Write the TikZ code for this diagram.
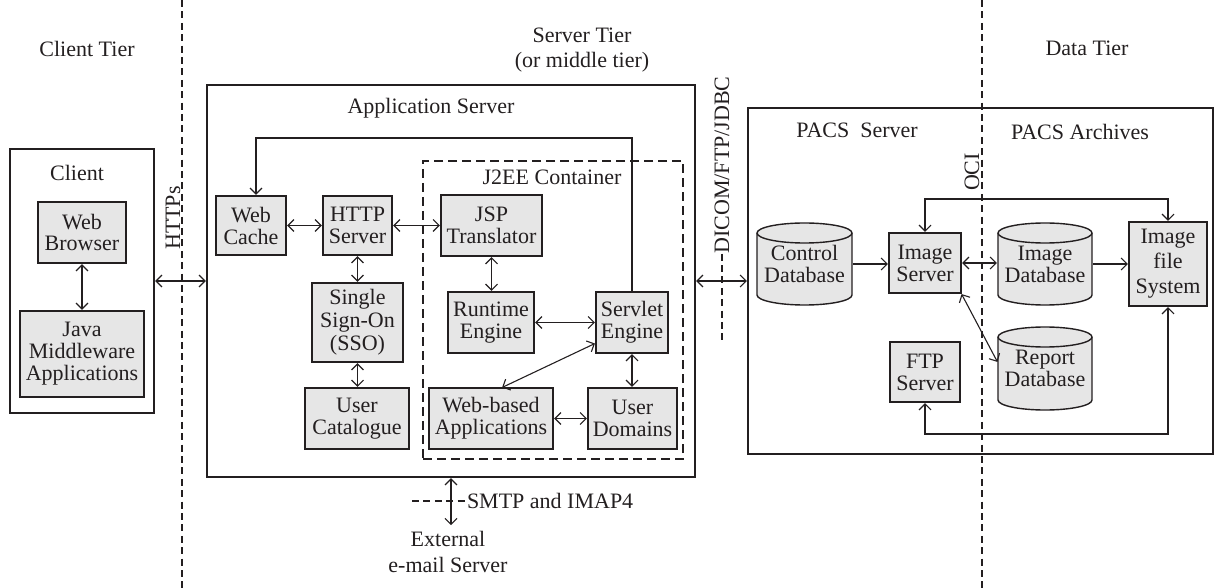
\documentclass[tikz,border=0pt]{standalone}
\usepackage{fontspec}
\setmainfont{Liberation Serif}
\usetikzlibrary{arrows.meta,calc}
\pgfdeclarelayer{background}
\pgfsetlayers{background,main}
\definecolor{boxgray}{RGB}{230,230,230}
\definecolor{linec}{RGB}{35,31,32}
\newcommand{\drawcyl}[2]{%
  \draw[gbox] ([yshift=-5pt]#1.north west) -- ([yshift=5pt]#1.south west)
     arc[start angle=180,end angle=360,x radius=#2,y radius=5pt]
     -- ([yshift=-5pt]#1.north east)
     arc[start angle=0,end angle=180,x radius=#2,y radius=5pt] -- cycle;
  \draw[gbox,fill=none] ([yshift=-5pt]#1.north west)
     arc[start angle=180,end angle=360,x radius=#2,y radius=5pt];
}
\begin{document}
\begin{tikzpicture}[x=0.5pt,y=-0.5pt,
  every node/.style={font=\fontsize{11}{11}\selectfont, inner sep=0pt, outer sep=0pt, align=center, text=linec},
  gbox/.style={draw=linec, line width=0.7pt, fill=boxgray},
  frame/.style={draw=linec, line width=0.7pt},
  cylbox/.style={draw=none},
  conn/.style={draw=linec, line width=0.55pt, shorten <=0.6pt, shorten >=0.6pt},
  dbl/.style={conn, {Straight Barb[length=3pt,width=6pt]}-{Straight Barb[length=3pt,width=6pt]}},
  sgl/.style={conn, -{Straight Barb[length=3pt,width=6pt]}},
  tierline/.style={draw=linec, line width=0.65pt, dash pattern=on 3.5pt off 2.2pt},
  cdash/.style={draw=linec, line width=0.7pt, dash pattern=on 4.5pt off 2.5pt}
]
\useasboundingbox (0,0) rectangle (1215,588);

% tier separators
\draw[tierline] (182,0) -- (182,588);
\draw[tierline] (982,0) -- (982,588);

% tier titles
\node (ct) at (87,49) {Client Tier};
\node[font=\fontsize{11}{12.5}\selectfont] (st) at (582,50) {Server Tier\\(or middle tier)};
\node (dt) at (1087,48) {Data Tier};

% client
\node[frame, minimum width=72pt, minimum height=132pt] (client) at (82,281) {};
\node (clientlbl) at (77,173) {Client};
\node[gbox, minimum width=44pt, minimum height=30.5pt, font=\fontsize{11}{10.5}\selectfont] (wb) at (82,232.5) {Web\\Browser};
\node[gbox, minimum width=62pt, minimum height=43pt] (java) at (82,354) {Java\\Middleware\\Applications};

% application server
\node[frame, minimum width=244pt, minimum height=196pt] (app) at (451,281) {};
\node (applbl) at (431,108) {Application Server};
\node[cdash, minimum width=130pt, minimum height=149pt] (j2ee) at (553,310) {};
\node (j2eelbl) at (552,177) {J2EE Container};
\node[gbox, minimum width=35pt, minimum height=29.5pt] (wc) at (251,225.5) {Web\\Cache};
\node[gbox, minimum width=34.5pt, minimum height=29.5pt] (http) at (357.5,225.5) {HTTP\\Server};
\node[gbox, minimum width=45.5pt, minimum height=39.5pt, font=\fontsize{11}{11.5}\selectfont] (sso) at (357.5,322.5) {Single\\Sign-On\\(SSO)};
\node[gbox, minimum width=52pt, minimum height=30.5pt] (uc) at (357,418.5) {User\\Catalogue};
\node[gbox, minimum width=50.5pt, minimum height=30.5pt] (jsp) at (491.5,225.5) {JSP\\Translator};
\node[gbox, minimum width=43pt, minimum height=30.5pt] (rt) at (491,322.5) {Runtime\\Engine};
\node[gbox, minimum width=36pt, minimum height=30.5pt] (se) at (632,322.5) {Servlet\\Engine};
\node[gbox, minimum width=62pt, minimum height=30.5pt] (wa) at (491,418.5) {Web-based\\Applications};
\node[gbox, minimum width=44.5pt, minimum height=30.5pt] (ud) at (632.5,418.5) {User\\Domains};

% PACS
\node[frame, minimum width=232.5pt, minimum height=173pt] (pacs) at (980.5,281) {};
\node (pacslbl) at (857,130) {PACS\ \ Server};
\node (archlbl) at (1080,132) {PACS Archives};
\node[cylbox, minimum width=47.5pt, minimum height=41pt] (cdb) at (804.5,264) {Control\\Database};
\node[gbox, minimum width=36pt, minimum height=30pt] (is) at (925,263) {Image\\Server};
\node[cylbox, minimum width=47pt, minimum height=41pt] (idb) at (1045,264) {Image\\Database};
\node[gbox, minimum width=39pt, minimum height=42pt, font=\fontsize{11}{12.5}\selectfont] (ifs) at (1168,264) {Image\\file\\System};
\node[cylbox, minimum width=47pt, minimum height=41.5pt] (rdb) at (1045,368.5) {Report\\Database};
\node[gbox, minimum width=35pt, minimum height=30pt] (ftp) at (925,372) {FTP\\Server};
\begin{pgfonlayer}{background}
\drawcyl{cdb}{23.75pt}
\drawcyl{idb}{23.5pt}
\drawcyl{rdb}{23.5pt}
\end{pgfonlayer}

% protocol labels
\node[rotate=90] (https) at (173,218) {HTTPs};
\node[rotate=90] (dicom) at (722,165) {DICOM/FTP/JDBC};
\node[rotate=90] (oci) at (972,172) {OCI};
\node[anchor=west] (smtp) at (467,501) {SMTP and IMAP4};
\node[font=\fontsize{11}{13}\selectfont] (ext) at (448,552) {External\\e-mail Server};

% connectors: client tier
\draw[dbl] (wb) -- (java);
\draw[dbl] (client.east) -- (app.west);

% application server
\draw[dbl] (wc) -- (http);
\draw[dbl] (http) -- (jsp);
\draw[dbl] (http) -- (sso);
\draw[dbl] (sso.south) -- (sso.south |- uc.north);
\draw[dbl] (jsp.south) -- (jsp.south |- rt.north);
\draw[dbl] (rt) -- (se);
\draw[dbl] ([yshift=5pt]se.south west) -- ([xshift=5pt]wa.north);
\draw[dbl] (wa) -- (ud);
\draw[dbl] (se.south) -- (se.south |- ud.north);
\draw[sgl] (se.north) -- ++(0,-154) -| ([xshift=2.5pt]wc.north);

% SMTP
\draw[dbl] (app.south) -- ([yshift=2.5pt]ext.north -| app.south);
\draw[tierline] (412,501) -- (smtp.west);

% DICOM
\draw[dbl] (app.east) -- (pacs.west);
\draw[tierline] (dicom.west) -- (722,340);

% PACS
\draw[sgl] (cdb.east) -- (cdb.east -| is.west);
\draw[dbl] (is.east) -- (is.east -| idb.west);
\draw[sgl] (idb.east) -- (ifs.west);
\draw[dbl] (is.south east) -- ([yshift=2.75pt]rdb.west);
\draw[dbl] (is.north) -- ++(0,-34) -| (ifs.north);
\draw[dbl] (ftp.south) -- ++(0,32) -| (ifs.south);
\end{tikzpicture}
\end{document}
